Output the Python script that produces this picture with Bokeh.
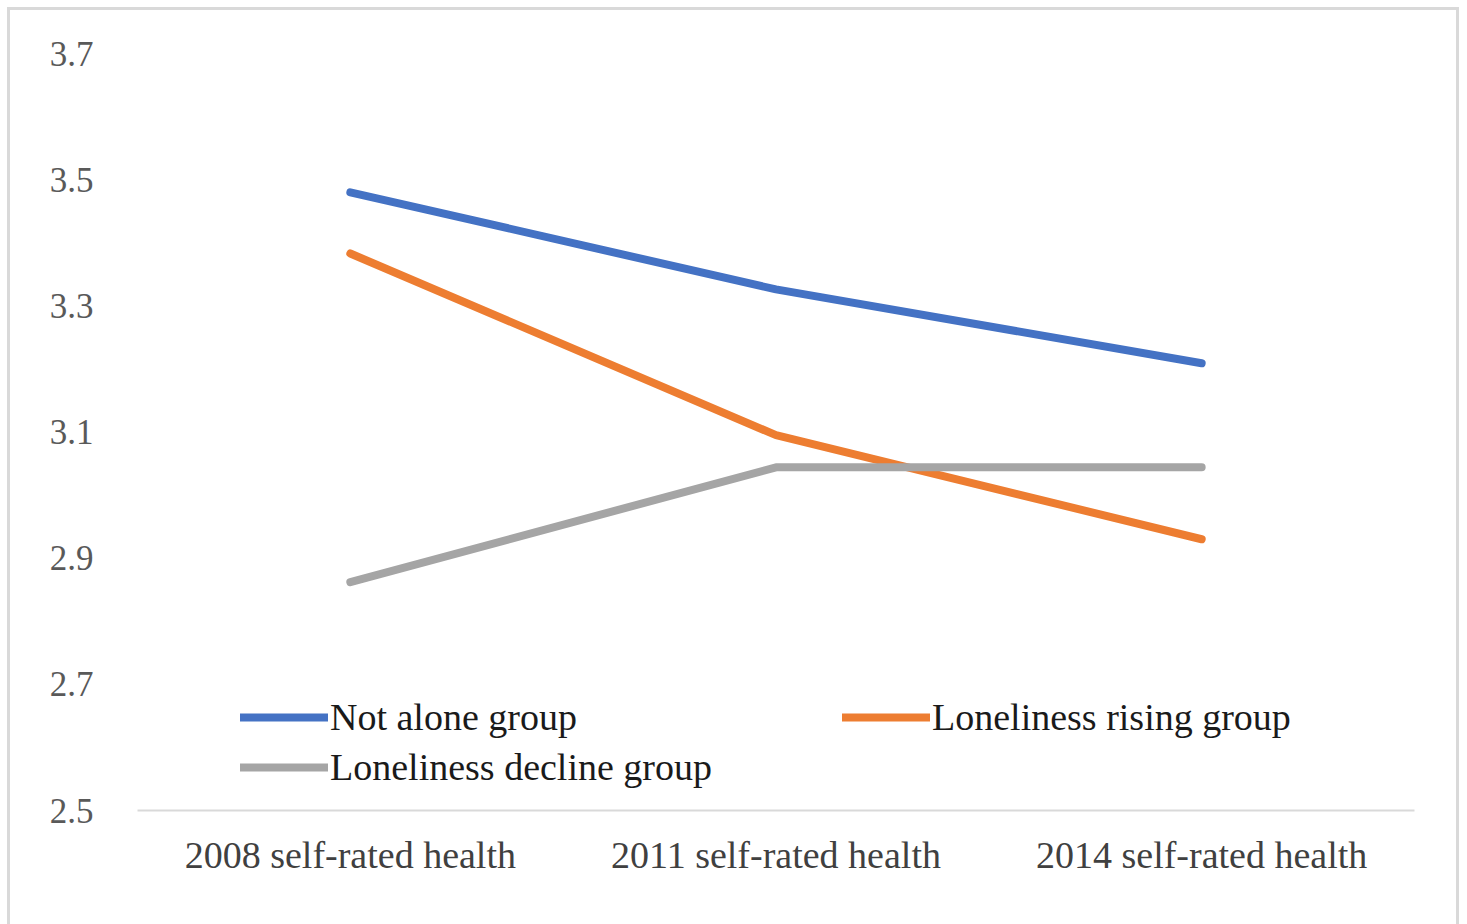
from bokeh.plotting import figure
from bokeh.models import Legend, LegendItem, FixedTicker
from bokeh.embed import file_html
from bokeh.resources import INLINE

categories = ["2008 self-rated health", "2011 self-rated health", "2014 self-rated health"]
not_alone = [3.480, 3.326, 3.209]
rising = [3.383, 3.095, 2.930]
decline = [2.862, 3.044, 3.044]
y_ticks = [2.5, 2.7, 2.9, 3.1, 3.3, 3.5, 3.7]

FONT = "Liberation Serif"

p = figure(x_range=categories, y_range=(2.5, 3.7), width=1467, height=924,
           output_backend="svg", toolbar_location=None,
           min_border_left=137, min_border_right=53, min_border_top=53, min_border_bottom=114)
p.x_range.range_padding = 0
p.outline_line_color = None
p.grid.visible = False
p.border_fill_color = None
p.background_fill_color = None

# light gray chart-area border drawn behind the transparent canvas
g = "linear-gradient(#D9D9D9,#D9D9D9)"
p.styles = {
    "background-color": "white",
    "background-image": f"{g}, {g}, {g}",
    "background-size": "3px 930px, 1452px 3px, 3px 930px",
    "background-position": "7px 7px, 7px 7px, 1456px 7px",
    "background-repeat": "no-repeat",
}

r1 = p.line(categories, not_alone, line_color="#4472C4", line_width=8, line_cap="round", line_join="round")
r2 = p.line(categories, rising, line_color="#ED7D31", line_width=8, line_cap="round", line_join="round")
r3 = p.line(categories, decline, line_color="#A5A5A5", line_width=8, line_cap="round", line_join="round")

# y axis
p.yaxis.ticker = FixedTicker(ticks=y_ticks)
p.yaxis.axis_line_color = None
p.yaxis.major_tick_line_color = None
p.yaxis.minor_tick_line_color = None
p.yaxis.major_label_text_font = FONT
p.yaxis.major_label_text_font_size = "35px"
p.yaxis.major_label_text_color = "#595959"
p.yaxis.major_label_standoff = 38

# x axis
p.xaxis.axis_line_color = "#D9D9D9"
p.xaxis.axis_line_width = 2
p.xaxis.major_tick_line_color = None
p.xaxis.minor_tick_line_color = None
p.xaxis.major_label_text_font = FONT
p.xaxis.major_label_text_font_size = "38px"
p.xaxis.major_label_text_color = "#404040"
p.xaxis.major_label_standoff = 17

def make_legend(items, loc):
    return Legend(items=items, location=loc, orientation="vertical",
                  padding=0, margin=0, spacing=0,
                  glyph_width=88, glyph_height=50, label_height=50, label_standoff=2,
                  label_text_font=FONT, label_text_font_size="38px", label_text_color="#1a1a1a",
                  border_line_color=None, background_fill_alpha=0)

lg1 = make_legend([LegendItem(label="Not alone group", renderers=[r1]),
                   LegendItem(label="Loneliness decline group", renderers=[r3])], (103, 18))
lg2 = make_legend([LegendItem(label="Loneliness rising group", renderers=[r2])], (705, 68))
p.add_layout(lg1)
p.add_layout(lg2)

open("out.html", "w").write(file_html(p, INLINE))
